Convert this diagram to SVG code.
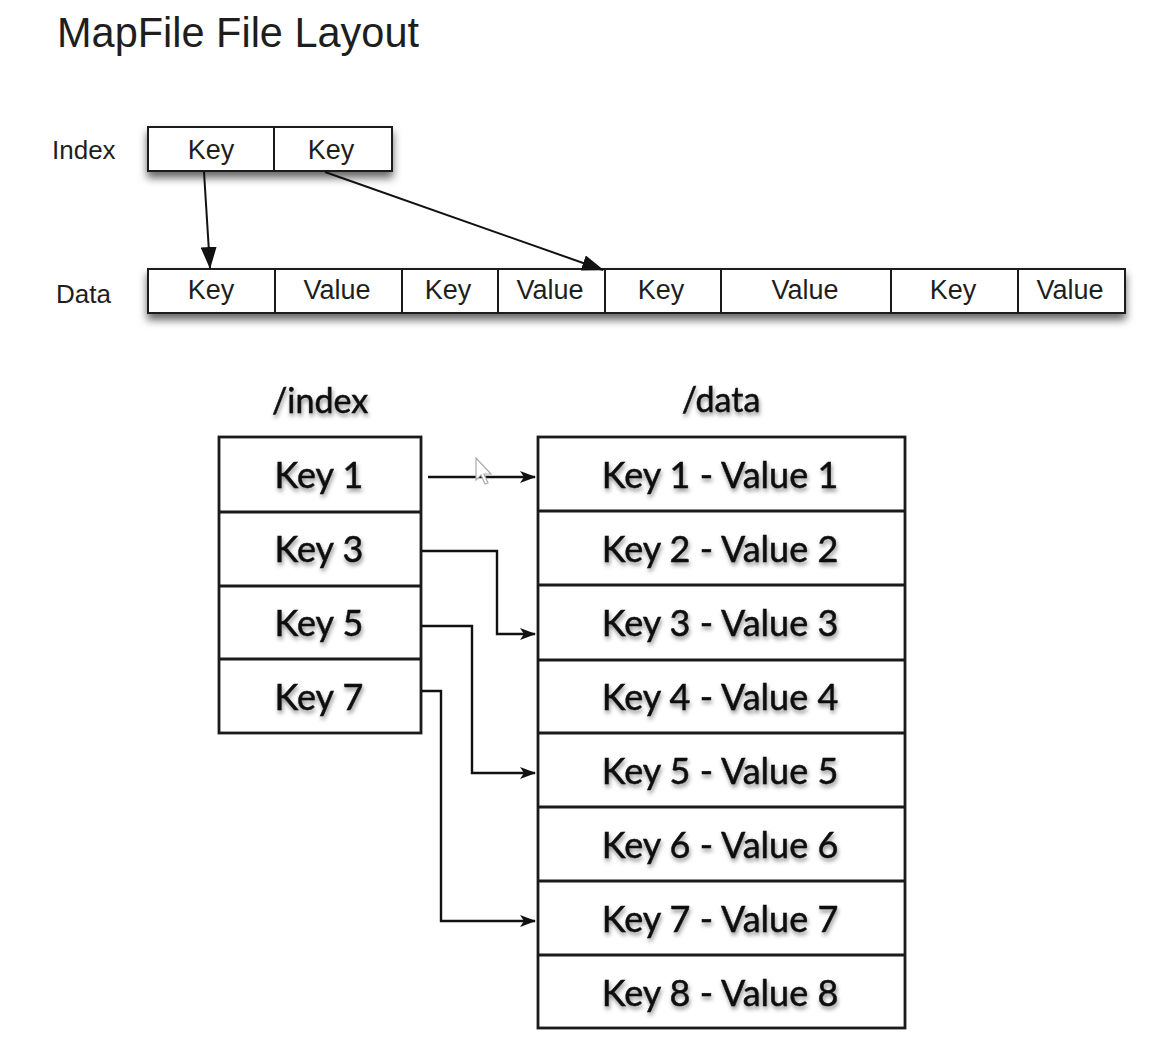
<svg xmlns="http://www.w3.org/2000/svg" width="1168" height="1040" viewBox="0 0 1168 1040">
<style>
.hv{font-family:"Liberation Sans",Arial,sans-serif;fill:#1e1e1e}
.gs{font-family:Lato,"Open Sans",sans-serif;fill:#111;stroke:#111;stroke-width:0.5}
.box{fill:#fff;stroke:#1a1a1a;stroke-width:2}
.box2{fill:#fff;stroke:#1a1a1a;stroke-width:2.8}
.div{stroke:#1a1a1a;stroke-width:2}
.div2{stroke:#1a1a1a;stroke-width:2.8}
.con{fill:none;stroke:#111;stroke-width:2}
.con2{fill:none;stroke:#111;stroke-width:2.4}
</style>
<defs>
<filter id="sh" x="-10%" y="-30%" width="120%" height="190%">
<feDropShadow dx="0" dy="6" stdDeviation="4" flood-color="#000" flood-opacity="0.6"/>
</filter>
<filter id="ts" x="-10%" y="-30%" width="120%" height="170%">
<feDropShadow dx="1" dy="3" stdDeviation="2.2" flood-color="#000" flood-opacity="0.45"/>
</filter>
<marker id="ahBig" markerWidth="22" markerHeight="16" refX="21" refY="8" orient="auto" markerUnits="userSpaceOnUse">
<path d="M0,0 L22,8 L0,16 Z" fill="#111"/>
</marker>
<marker id="ahSm" markerWidth="16" markerHeight="12" refX="15" refY="6" orient="auto" markerUnits="userSpaceOnUse">
<path d="M0,0 L16,6 L0,12 L4,6 Z" fill="#111"/>
</marker>
</defs>
<rect width="1168" height="1040" fill="#fff"/>
<text class="hv" x="57" y="47" font-size="42" textLength="362" lengthAdjust="spacingAndGlyphs">MapFile File Layout</text>

<g id="index-row">
<text class="hv" x="52" y="159" font-size="26">Index</text>
<rect class="box" x="148" y="127" width="244" height="44" filter="url(#sh)"/>
<line class="div" x1="274" y1="127" x2="274" y2="171"/>
<text class="hv" x="211" y="159" font-size="27" text-anchor="middle">Key</text>
<text class="hv" x="331" y="159" font-size="27" text-anchor="middle">Key</text>
</g>

<g id="data-row">
<text class="hv" x="56" y="303" font-size="26">Data</text>
<rect class="box" x="148" y="269" width="977" height="44" filter="url(#sh)"/>
<line class="div" x1="275" y1="269" x2="275" y2="313"/>
<line class="div" x1="402" y1="269" x2="402" y2="313"/>
<line class="div" x1="498" y1="269" x2="498" y2="313"/>
<line class="div" x1="605" y1="269" x2="605" y2="313"/>
<line class="div" x1="721" y1="269" x2="721" y2="313"/>
<line class="div" x1="891" y1="269" x2="891" y2="313"/>
<line class="div" x1="1018" y1="269" x2="1018" y2="313"/>
<g font-size="27" text-anchor="middle">
<text class="hv" x="211" y="299">Key</text>
<text class="hv" x="337" y="299">Value</text>
<text class="hv" x="448" y="299">Key</text>
<text class="hv" x="550" y="299">Value</text>
<text class="hv" x="661" y="299">Key</text>
<text class="hv" x="805" y="299">Value</text>
<text class="hv" x="953" y="299">Key</text>
<text class="hv" x="1070" y="299">Value</text>
</g>
</g>

<g id="index-file">
<text class="gs" x="320" y="413" font-size="34" text-anchor="middle" filter="url(#ts)">/index</text>
<rect class="box2" x="219" y="437" width="202" height="296"/>
<line class="div2" x1="219" y1="512" x2="421" y2="512"/>
<line class="div2" x1="219" y1="586" x2="421" y2="586"/>
<line class="div2" x1="219" y1="659" x2="421" y2="659"/>
<g font-size="36" text-anchor="middle" filter="url(#ts)">
<text class="gs" x="319" y="488">Key 1</text>
<text class="gs" x="319" y="562">Key 3</text>
<text class="gs" x="319" y="636">Key 5</text>
<text class="gs" x="319" y="710">Key 7</text>
</g>
</g>

<g id="data-file">
<text class="gs" x="721" y="412" font-size="34" text-anchor="middle" filter="url(#ts)">/data</text>
<rect class="box2" x="538" y="437" width="367" height="591"/>
<line class="div2" x1="538" y1="511" x2="905" y2="511"/>
<line class="div2" x1="538" y1="585" x2="905" y2="585"/>
<line class="div2" x1="538" y1="660" x2="905" y2="660"/>
<line class="div2" x1="538" y1="733" x2="905" y2="733"/>
<line class="div2" x1="538" y1="807" x2="905" y2="807"/>
<line class="div2" x1="538" y1="881" x2="905" y2="881"/>
<line class="div2" x1="538" y1="955" x2="905" y2="955"/>
<g font-size="36" text-anchor="middle" filter="url(#ts)">
<text class="gs" x="720" y="488">Key 1 - Value 1</text>
<text class="gs" x="720" y="562">Key 2 - Value 2</text>
<text class="gs" x="720" y="636">Key 3 - Value 3</text>
<text class="gs" x="720" y="710">Key 4 - Value 4</text>
<text class="gs" x="720" y="784">Key 5 - Value 5</text>
<text class="gs" x="720" y="858">Key 6 - Value 6</text>
<text class="gs" x="720" y="932">Key 7 - Value 7</text>
<text class="gs" x="720" y="1006">Key 8 - Value 8</text>
</g>
</g>

<g id="connectors">
<line class="con" x1="204" y1="172" x2="210" y2="268" marker-end="url(#ahBig)"/>
<line class="con" x1="325" y1="172" x2="603" y2="270" marker-end="url(#ahBig)"/>
<path class="con2" d="M428,477 H535" marker-end="url(#ahSm)"/>
<path class="con2" d="M422,551 H497 V634 H535" marker-end="url(#ahSm)"/>
<path class="con2" d="M422,626 H472 V773 H535" marker-end="url(#ahSm)"/>
<path class="con2" d="M422,691 H441 V921 H535" marker-end="url(#ahSm)"/>
</g>

<path d="M476,458 L476,480 L481,475 L485,484 L488,483 L484,474 L491,474 Z" fill="#fff" stroke="#aaa" stroke-width="1.2"/>
</svg>
